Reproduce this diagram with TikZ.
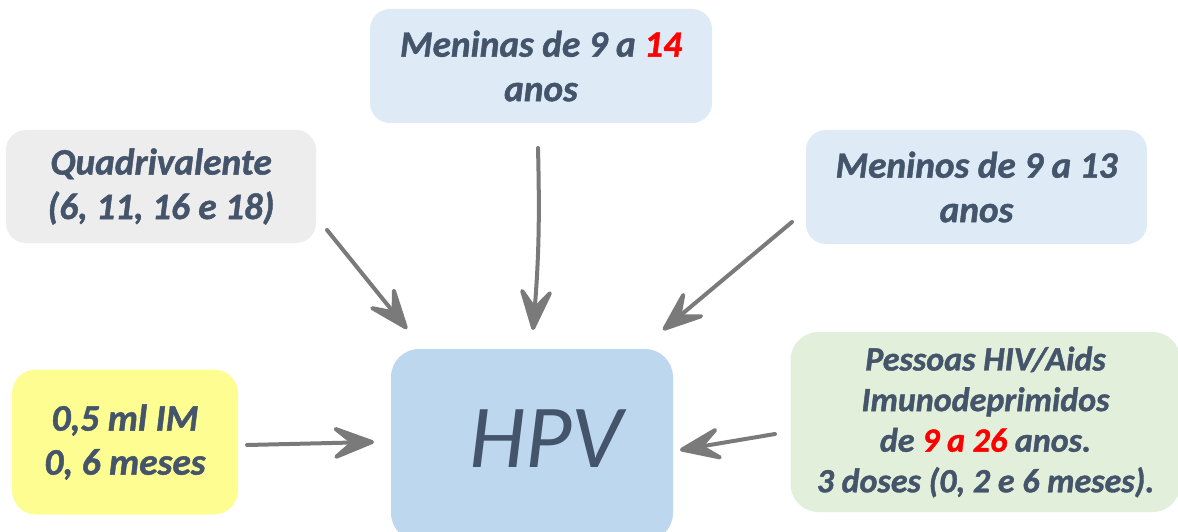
\documentclass[tikz,border=0pt]{standalone}
\usepackage{fontspec}
\setmainfont{Carlito}[BoldItalicFeatures={FakeBold=1.2}]
\usetikzlibrary{arrows.meta}
\definecolor{txt}{HTML}{44546A}
\definecolor{lblue}{HTML}{DEEAF6}
\definecolor{lgray}{HTML}{EDEDED}
\definecolor{hpvblue}{HTML}{BDD7EE}
\definecolor{lyellow}{HTML}{FEFD92}
\definecolor{lgreen}{HTML}{E2EFDA}
\definecolor{bggreen}{HTML}{F1FCEE}
\definecolor{arrgray}{HTML}{7A7A7A}
\definecolor{hired}{HTML}{FF0000}
\pgfdeclareradialshading{bgshade}{\pgfpoint{0bp}{0bp}}{color(0bp)=(white); color(17bp)=(white); color(26bp)=(bggreen); color(50bp)=(bggreen)}
\tikzset{
  box/.style={rectangle, inner sep=0pt, align=center, text=txt,
    font=\fontsize{37.3}{44.5}\selectfont\bfseries\itshape},
  arr/.style={draw=arrgray, line width=4pt, line cap=round,
    -{Stealth[length=52pt, width=40pt, inset=24pt, round]}},
}
\begin{document}
\begin{tikzpicture}[x=1pt, y=-1pt]
\useasboundingbox (0,0) rectangle (1178,532);
\begin{scope}
\clip (0,0) rectangle (1178,532);
\shade[shading=bgshade] (-600,-360) rectangle (1800,940);
% boxes
\node[box, fill=lblue, rounded corners=20pt, minimum width=342pt, minimum height=114pt] (girls) at (541,66)
  {Meninas de 9 a {\color{hired}14}\\anos};
\node[box, fill=lgray, rounded corners=20pt, minimum width=310pt, minimum height=113pt] (quad) at (161,186.5)
  {Quadrivalente\\(6, 11, 16 e 18)};
\node[box, fill=lblue, rounded corners=20pt, minimum width=341pt, minimum height=114pt] (boys) at (976.5,187)
  {Meninos de 9 a 13\\anos};
\node[box, fill=lyellow, rounded corners=24pt, minimum width=226pt, minimum height=145pt,
  font=\fontsize{37.5}{44}\selectfont\bfseries\itshape] (dose) at (125,442)
  {0,5 ml IM\\0, 6 meses};
\node[box, fill=hpvblue, rounded corners=28pt, minimum width=282pt, minimum height=192pt] (hpv) at (532,445) {};
\node[text=txt, font=\fontsize{90}{100}\selectfont\itshape, inner sep=0pt, anchor=base] (hpvtxt) at (546,467) {HPV};
\node[box, fill=lgreen, rounded corners=28pt, minimum width=390pt, minimum height=180pt,
  font=\fontsize{34}{40.6}\selectfont\bfseries\itshape] (hiv) at (985.5,422)
  {Pessoas HIV/Aids\\Imunodeprimidos\\de {\color{hired}9 a 26} anos.\\ 3 doses (0, 2 e 6 meses).};
\end{scope}
% arrow ends
\coordinate (q1) at (327,230);  \coordinate (q2) at (407,329);
\coordinate (g1) at (538,148);  \coordinate (g2) at (533,330);
\coordinate (b1) at (792,222);  \coordinate (b2) at (663,330);
\coordinate (d1) at (247,445);  \coordinate (d2) at (374,442);
\coordinate (h1) at (775,434);  \coordinate (h2) at (680,450);
\draw[arr] (q1) -- (q2);
\draw[arr] (g1) to[bend left=3] (g2);
\draw[arr] (b1) -- (b2);
\draw[arr] (d1) -- (d2);
\draw[arr] (h1) -- (h2);
\end{tikzpicture}
\end{document}
